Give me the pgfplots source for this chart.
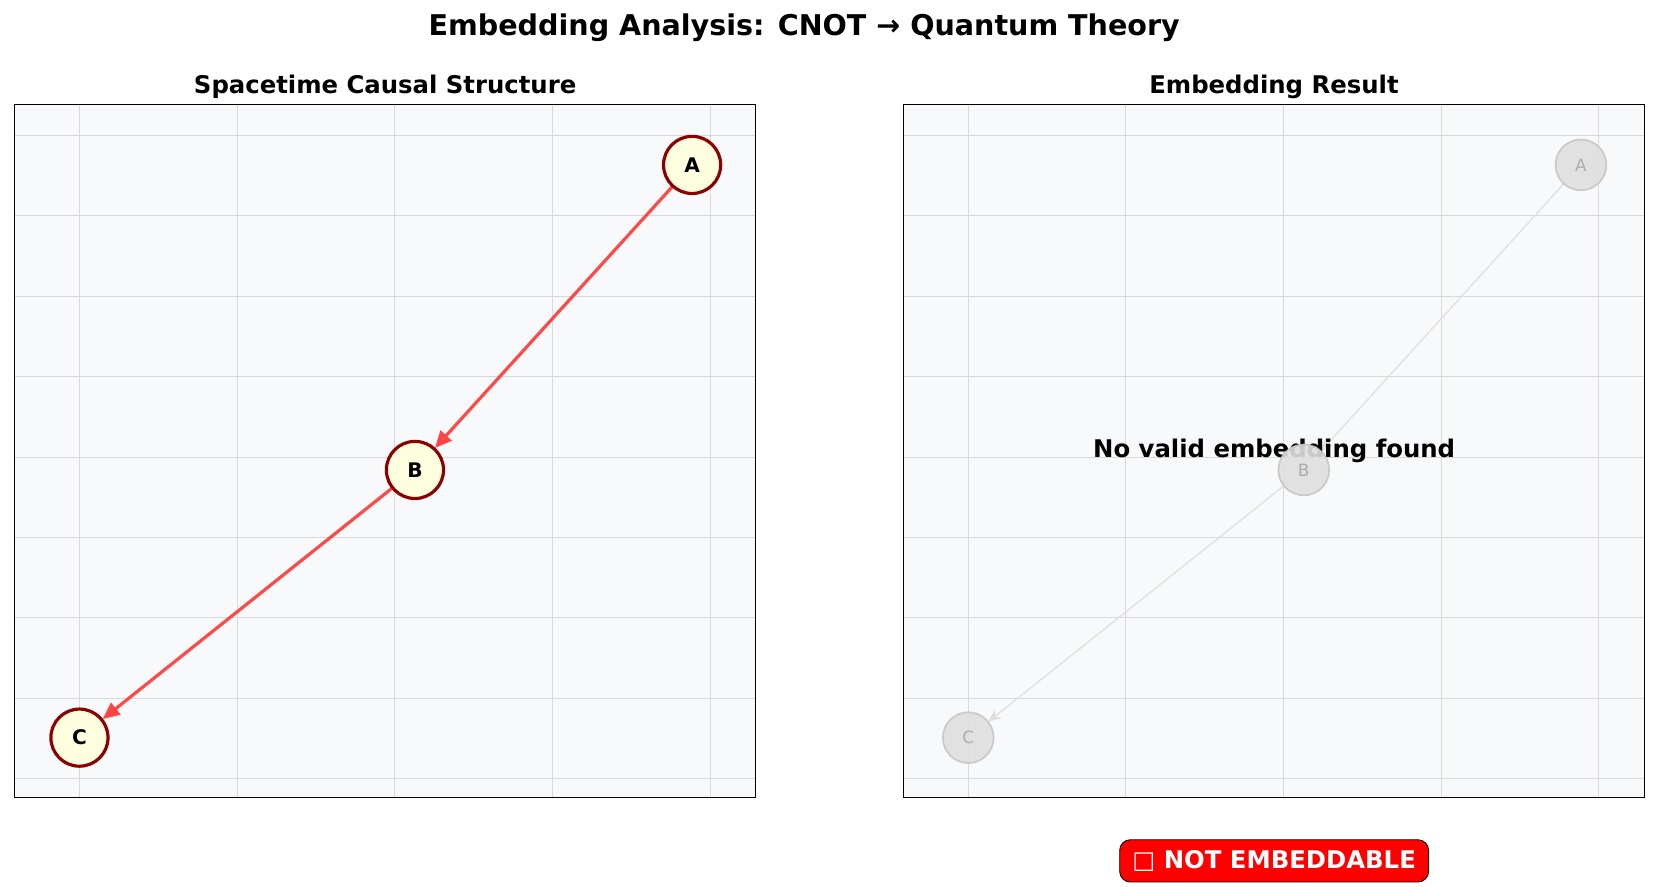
\documentclass[border=0pt]{standalone}
\usepackage{pgfplots}
\pgfplotsset{compat=1.18}
\usepackage{fontspec}
\setmainfont{DejaVu Sans}
\usetikzlibrary{arrows.meta}
\definecolor{bg}{HTML}{F8F9FA}
\definecolor{nodefill}{HTML}{FFFFE0}
\definecolor{dred}{HTML}{8B0000}
\pgfplotsset{myax/.style={width=350pt,height=327.5pt,scale only axis,
 xmin=-0.205,xmax=2.144,ymin=-0.059,ymax=2.095,
 xtick={0,0.5,...,2},ytick={0,0.25,...,2},xticklabels={},yticklabels={},
 major tick length=0pt,grid=major,grid style={gray!30,line width=0.5pt},
 axis background/.style={fill=bg},axis line style={black,line width=0.6pt},
 title style={font=\fontsize{11.5}{13}\selectfont\bfseries,yshift=-6.5pt},clip=false}}
\begin{document}
\begin{tikzpicture}
\path (-7pt,-42pt) rectangle (776pt,377pt);
\node[font=\fontsize{13.5}{16}\selectfont\bfseries] at (373pt,364pt) {Embedding Analysis: CNOT → Quantum Theory};
\begin{axis}[myax,at={(0,0)},title={Spacetime Causal Structure}]
\addplot[red!75!white,opacity=0.95,line width=1.5pt,-{Stealth[length=8pt,width=7pt,inset=0pt]},shorten <=14pt,shorten >=14pt] coordinates {(1.943,1.908) (1.064,0.96)};
\addplot[red!75!white,opacity=0.95,line width=1.5pt,-{Stealth[length=8pt,width=7pt,inset=0pt]},shorten <=14pt,shorten >=14pt] coordinates {(1.064,0.96) (0,0.128)};
\addplot[only marks,mark=*,mark size=13.5pt,mark options={fill=nodefill,draw=dred,line width=1.5pt},
 nodes near coords,point meta=explicit symbolic,every node near coord/.style={anchor=center,font=\fontsize{9.5}{10}\selectfont\bfseries}]
 table[meta=l]{x y l
1.943 1.908 A
1.064 0.96 B
0 0.128 C
};
\end{axis}
\begin{axis}[myax,at={(420pt,0)},title={Embedding Result}]
\addplot[gray!25,line width=0.6pt,-{Stealth[length=6pt,width=5pt]},shorten <=12pt,shorten >=12pt] coordinates {(1.943,1.908) (1.064,0.96)};
\addplot[gray!25,line width=0.6pt,-{Stealth[length=6pt,width=5pt]},shorten <=12pt,shorten >=12pt] coordinates {(1.064,0.96) (0,0.128)};
\addplot[only marks,mark=*,mark size=12pt,mark options={fill=gray!25,draw=gray!45,line width=0.8pt,opacity=0.9},
 nodes near coords,point meta=explicit symbolic,every node near coord/.style={anchor=center,text=gray!70,font=\fontsize{8}{10}\selectfont}]
 table[meta=l]{x y l
1.943 1.908 A
1.064 0.96 B
0 0.128 C
};
\node[font=\fontsize{11.5}{13}\selectfont\bfseries] at (axis cs:0.97,1.02) {No valid embedding found};
\node[fill=red,draw=black,rounded corners=5pt,text=white,font=\fontsize{11.5}{13}\selectfont\bfseries,inner xsep=6pt,inner ysep=5pt] at (axis cs:0.97,-0.255) {□ NOT EMBEDDABLE};
\end{axis}
\end{tikzpicture}
\end{document}
